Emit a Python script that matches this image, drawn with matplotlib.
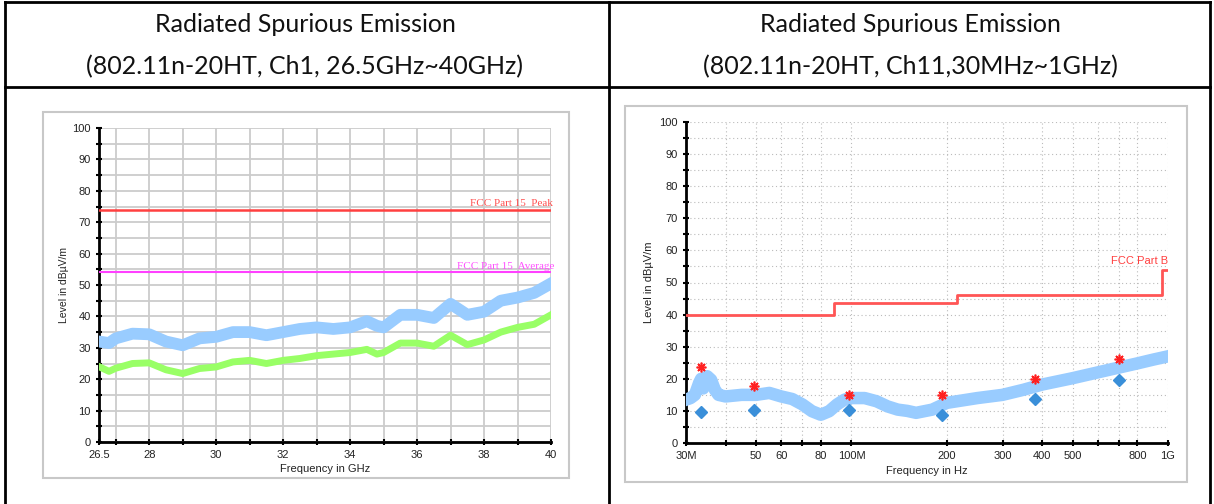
import numpy as np
import matplotlib
matplotlib.use("Agg")
import matplotlib.pyplot as plt
from matplotlib.patches import Rectangle
from matplotlib.lines import Line2D
from matplotlib.ticker import FixedLocator, NullFormatter

W, H = 1214, 504

# ---- left chart data (26.5 GHz ~ 40 GHz) ----
ghz = [26.5, 26.8, 27.0, 27.5, 28.0, 28.5, 29.0, 29.5, 30.0, 30.5, 31.0, 31.5,
       32.0, 32.5, 33.0, 33.5, 34.0, 34.5, 34.8, 35.0, 35.5, 36.0, 36.5, 37.0,
       37.5, 38.0, 38.5, 39.0, 39.5, 40.0]
peak_trace = [32.0, 31.5, 33.0, 34.5, 34.3, 32.0, 30.8, 33.0, 33.5, 35.0, 35.0, 34.0,
              35.0, 36.0, 36.5, 36.0, 36.5, 38.5, 37.0, 36.5, 40.5, 40.5, 39.5, 44.0,
              40.5, 41.5, 45.0, 46.0, 47.5, 50.5]
avg_trace = [24.0, 22.5, 23.5, 25.0, 25.2, 23.0, 21.8, 23.4, 23.9, 25.5, 26.0, 25.0,
             26.0, 26.6, 27.5, 28.0, 28.5, 29.5, 28.0, 28.5, 31.5, 31.5, 30.5, 34.0,
             31.0, 32.5, 35.0, 36.5, 37.5, 40.5]
fcc15_peak = 74
fcc15_avg = 54

# ---- right chart data (30 MHz ~ 1 GHz) ----
mhz = [30, 31, 32, 33, 33.5, 34, 35, 36, 37, 38, 40, 45, 50, 55, 60, 65, 70, 75,
       80, 85, 90, 95, 100, 110, 120, 130, 140, 150, 160, 180, 200, 250, 300, 350,
       400, 500, 600, 700, 800, 900, 1000]
level = [13.5, 14.0, 15.0, 18.7, 20.0, 17.0, 20.8, 19.7, 16.6, 15.0, 14.5, 15.0, 15.0,
         15.6, 14.5, 13.7, 12.0, 9.9, 8.8, 9.9, 12.0, 13.5, 14.0, 14.0, 13.0, 11.4,
         10.4, 10.0, 9.4, 10.4, 12.5, 14.0, 15.0, 16.6, 18.2, 20.2, 22.0, 23.5, 24.8,
         26.0, 27.0]
limit_f = [30, 88, 88, 216, 216, 960, 960, 1000]
limit_db = [40, 40, 43.5, 43.5, 46, 46, 54, 54]
mark_f = [33.5, 49.2, 98.3, 193.8, 378.9, 698.0]
mark_peak = [23.7, 17.9, 14.8, 15.1, 19.9, 26.3]
mark_qp = [9.6, 10.4, 10.4, 8.6, 13.7, 19.5]

fig = plt.figure(figsize=(W / 100, H / 100), dpi=100)
fig.patch.set_facecolor("white")
plt.rcParams["font.family"] = "Liberation Sans"


def px_axes(x0, y0, x1, y1):
    return fig.add_axes([x0 / W, 1 - y1 / H, (x1 - x0) / W, (y1 - y0) / H])


def px_rect(x0, y0, x1, y1, **kw):
    fig.patches.append(Rectangle((x0 / W, 1 - y1 / H), (x1 - x0) / W, (y1 - y0) / H,
                                 transform=fig.transFigure, zorder=-5, **kw))


def px_line(xs, ys, **kw):
    fig.lines.append(Line2D([x / W for x in xs], [1 - y / H for y in ys],
                            transform=fig.transFigure, **kw))


# table
tbl = dict(color="black", lw=2)
px_line([5, 1210], [2, 2], **tbl)
px_line([5, 1210], [87, 87], **tbl)
px_line([5, 5], [2, 504], **tbl)
px_line([609, 609], [2, 504], **tbl)
px_line([1210, 1210], [2, 504], **tbl)

hdr = dict(ha="center", va="center", fontsize=18, family="Lato", color="#111111")
fig.text(305 / W, 1 - 25 / H, "Radiated Spurious Emission", **hdr)
fig.text(305 / W, 1 - 67 / H, "(802.11n-20HT, Ch1, 26.5GHz~40GHz)", **hdr)
fig.text(910 / W, 1 - 25 / H, "Radiated Spurious Emission", **hdr)
fig.text(910 / W, 1 - 67 / H, "(802.11n-20HT, Ch11,30MHz~1GHz)", **hdr)

# chart frames
px_rect(43, 112, 569, 478, facecolor="white", edgecolor="#C8C8C8", lw=1.5)
px_rect(625, 106, 1187, 482, facecolor="white", edgecolor="#C8C8C8", lw=1.5)

tick_kw = dict(direction="inout", length=5, width=1.5, colors="black",
               labelsize=8, labelcolor="#222222")

# ---- left chart ----
ax = px_axes(99, 128, 551, 442)
ax.patch.set_alpha(0)
ax.plot(ghz, peak_trace, color="#99CCFF", lw=8.5, zorder=3)
ax.plot(ghz, avg_trace, color="#99FF66", lw=5, zorder=4)
ax.axhline(fcc15_peak, color="#FF4040", lw=1.8, zorder=5)
ax.axhline(fcc15_avg, color="#FF40FF", lw=1.5, zorder=5)
ax.text(40.05, fcc15_peak + 0.6, "FCC Part 15  Peak", color="#FF5050", fontsize=8,
        family="Liberation Serif", ha="right", va="bottom", clip_on=False)
ax.text(40.1, fcc15_avg + 0.6, "FCC Part 15  Average", color="#FF50FF", fontsize=8,
        family="Liberation Serif", ha="right", va="bottom", clip_on=False)
ax.set_xlim(26.5, 40)
ax.set_ylim(0, 100)
ax.set_xticks([26.5, 28, 30, 32, 34, 36, 38, 40])
ax.set_xticklabels(["26.5", "28", "30", "32", "34", "36", "38", "40"])
ax.xaxis.set_minor_locator(FixedLocator([27, 29, 31, 33, 35, 37, 39]))
ax.set_yticks(range(0, 101, 10))
ax.yaxis.set_minor_locator(FixedLocator(range(5, 100, 10)))
ax.tick_params(which="both", **tick_kw)
ax.grid(which="both", color="#CCCCCC", lw=1.3, zorder=0)
ax.set_axisbelow(True)
for s in ["top", "right"]:
    ax.spines[s].set_visible(False)
for s in ["left", "bottom"]:
    ax.spines[s].set_linewidth(2)
ax.set_xlabel("Frequency in GHz", fontsize=8, color="#222222", labelpad=3)
ax.set_ylabel("Level in dBµV/m", fontsize=7.5, color="#222222", labelpad=2)

# ---- right chart ----
bx = px_axes(686, 122, 1168, 443)
bx.patch.set_alpha(0)
bx.plot(mhz, level, color="#99CCFF", lw=9, zorder=3)
bx.plot(limit_f, limit_db, color="#FF5555", lw=2, zorder=4)
bx.plot(mark_f, mark_qp, ls="none", marker="D", ms=6.5, color="#3A8FD9", zorder=5)
bx.plot(mark_f, mark_peak, ls="none", marker=(8, 2, 0), ms=7, mew=1.2,
        color="#FF2020", zorder=6)
bx.text(1000, 55.2, "FCC Part B", color="#FF4040", fontsize=8, ha="right",
        va="bottom", clip_on=False)
bx.set_xscale("log")
bx.set_xlim(30, 1000)
bx.set_ylim(0, 100)
bx.xaxis.set_major_locator(FixedLocator([30, 50, 60, 80, 100, 200, 300, 400, 500, 800, 1000]))
bx.set_xticklabels(["30M", "50", "60", "80", "100M", "200", "300", "400", "500", "800", "1G"])
bx.xaxis.set_minor_locator(FixedLocator([40, 70, 600, 700]))
bx.xaxis.set_minor_formatter(NullFormatter())
bx.set_yticks(range(0, 101, 10))
bx.yaxis.set_minor_locator(FixedLocator(range(5, 100, 10)))
bx.tick_params(which="both", **tick_kw)
bx.grid(which="both", color="#BBBBBB", lw=0.8, ls=(0, (1, 2.5)), zorder=0)
bx.set_axisbelow(True)
for s in ["top", "right"]:
    bx.spines[s].set_visible(False)
for s in ["left", "bottom"]:
    bx.spines[s].set_linewidth(2)
bx.set_xlabel("Frequency in Hz", fontsize=8, color="#222222", labelpad=3)
bx.set_ylabel("Level in dBµV/m", fontsize=8, color="#222222", labelpad=4)

fig.savefig("out.png", dpi=100)
